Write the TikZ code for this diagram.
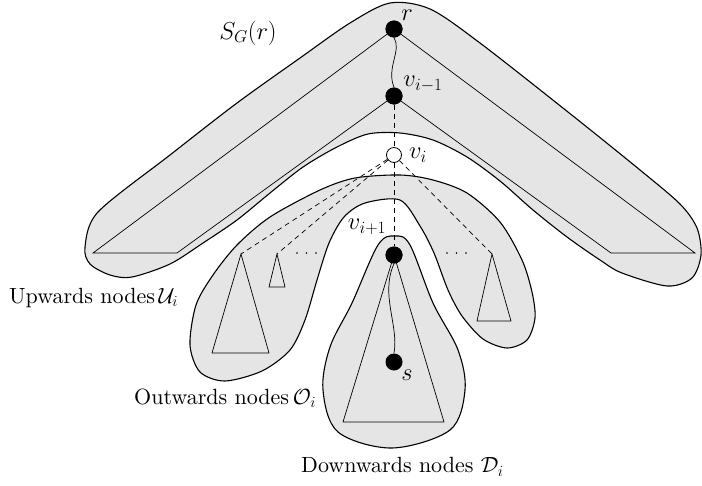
\RequirePackage{fix-cm}
\documentclass[tikz,border=0pt]{standalone}
\usepackage{amsmath}
\usepackage{fontspec}
\newfontfamily\lmten{lmroman10-regular}[Extension=.otf]
\begin{document}
\begin{tikzpicture}[x=1pt,y=-1pt,
  region/.style={draw=black,line width=1.1pt,fill=gray!20},
  thin/.style={line width=0.7pt},
  dashline/.style={line width=0.7pt,dash pattern=on 5pt off 4pt},
  fillnode/.style={circle,fill=black,inner sep=0pt,minimum size=17pt},
  opennode/.style={circle,draw=black,fill=white,line width=0.8pt,inner sep=0pt,minimum size=15pt},
  lbl/.style={font=\fontsize{22}{27}\selectfont\lmten,inner sep=0pt},
  mlbl/.style={font=\fontsize{24.5}{29}\selectfont,inner sep=0pt},
  dots/.style={line width=1.7pt,line cap=round,dash pattern=on 0pt off 9.5pt}]
\useasboundingbox (0,0) rectangle (702,485);

% upper region S_G(r)
\draw[region] plot[smooth cycle,tension=0.5] coordinates {
 (390,3) (430,9) (480,43) (573,116) (640,170) (680,204) (697,228) (701,255)
 (692,278) (667,286) (622,273) (600,260) (567,237) (533,210) (500,181)
 (467,157) (433,140) (400,133) (368,134) (337,147) (303,167) (270,193)
 (237,220) (203,243) (170,264) (132,277) (110,275) (90,264) (85,247)
 (98,212) (170,155) (237,103) (300,58) (350,23)};

% middle region (upwards / outwards)
\draw[region] plot[smooth cycle,tension=0.5] coordinates {
 (400,175) (433,180) (467,193) (500,222) (522,260) (532,292) (535,318)
 (527,340) (507,348) (483,339) (462,316) (448,290) (434,253) (420,226)
 (400,200) (365,203) (344,217) (329,243) (317,280) (305,320) (290,350)
 (262,371) (225,381) (200,372) (190,345) (196,305) (213,275) (237,245)
 (270,217) (320,190) (355,178)};

% lower region (downwards)
\draw[region] plot[smooth cycle,tension=0.55] coordinates {
 (395,236) (410,245) (433,303) (458,350) (465,390) (450,430) (392,448)
 (338,432) (323,390) (330,347) (352,303) (378,245)};

% nodes
\node[fillnode] (r) at (394,29) {};
\node[fillnode] (vm) at (394,96) {};
\node[opennode] (vi) at (394,155) {};
\node[fillnode] (vp) at (394,255) {};
\node[fillnode] (s) at (394,362) {};

% triangles in S_G(r)
\coordinate (la) at (93,253);
\coordinate (lb) at (177,253);
\coordinate (ra) at (695,253);
\coordinate (rb) at (611,253);
\draw[thin] (r.center) -- (la) -- (lb) -- (vm.center);
\draw[thin] (r.center) -- (ra) -- (rb) -- (vm.center);
\node[fillnode] at (r) {};
\node[fillnode] at (vm) {};

% wavy paths
\draw[thin] (r.south) .. controls (402,50) and (386,68) .. (vm.north);
\draw[thin] (vp.south) .. controls (380,295) and (399,325) .. (s.north);

% triangle subtrees
\coordinate (t1) at (241,254);
\coordinate (t2) at (277,254);
\coordinate (t3) at (492,254);
\draw[thin] (t1) -- (212,353) -- (269,353) -- cycle;
\draw[thin] (t2) -- (269,287) -- (285,287) -- cycle;
\draw[thin] (t3) -- (477,321) -- (511,321) -- cycle;
\draw[thin] (vp.center) -- (343,422) -- (444,422) -- cycle;
\node[fillnode] at (vp) {};

% dashed connections
\draw[dashline] (vm) -- (vi);
\draw[dashline] (vi) -- (vp);
\draw[dashline] (vi) -- (t1);
\draw[dashline] (vi) -- (t2);
\draw[dashline] (vi) -- (t3);

% dots
\coordinate (d1) at (297,253);
\coordinate (d2) at (318,253);
\coordinate (d3) at (447,253);
\coordinate (d4) at (468,253);
\draw[dots] (d1) -- (d2);
\draw[dots] (d3) -- (d4);

% labels
\node[mlbl] (lsg) at (248,33) {$S_G(r)$};
\node[mlbl] (lr) at (407,15) {$r$};
\node[mlbl] (lvm) at (423,84) {$v_{i-1}$};
\node[mlbl] (lvi) at (418,155) {$v_i$};
\node[mlbl] (lvp) at (367,227) {$v_{i+1}$};
\node[mlbl] (ls) at (407,375) {$s$};
\node[lbl,anchor=west] (lu) at (9,298) {Upwards nodes\,$\mathcal{U}_i$};
\node[lbl,anchor=west] (lo) at (134,398) {Outwards nodes\,$\mathcal{O}_i$};
\node[lbl,anchor=west] (ld) at (301,467) {Downwards nodes $\mathcal{D}_i$};
\end{tikzpicture}
\end{document}
